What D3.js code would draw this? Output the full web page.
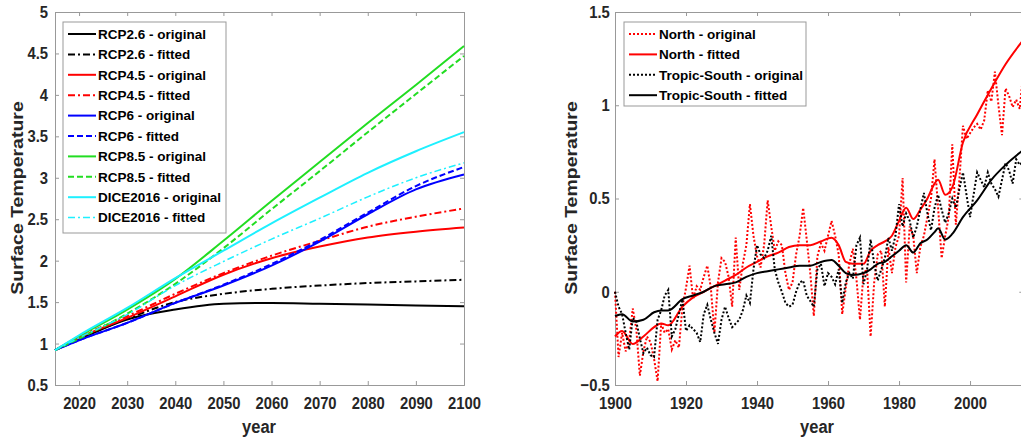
<!DOCTYPE html>
<html>
<head>
<meta charset="utf-8">
<script src="https://cdn.jsdelivr.net/npm/d3@7"></script>
<style>
body { margin: 0; background: #fff; }
svg { display: block; font-family: "Liberation Sans", Arial, sans-serif; }
.tick text { font-size: 17px; font-weight: bold; fill: #262626; }
.tick line { stroke: #999; }
.domain { stroke: #999; }
</style>
</head>
<body>
<svg class="chart" width="1021" height="441"></svg>
<script>
// left panel: projections
var leftYears = [2015, 2020, 2030, 2040, 2050, 2060, 2070, 2080, 2090, 2100];
var rcp26Orig = [0.92, 1.05, 1.29, 1.41, 1.48, 1.49, 1.48, 1.47, 1.46, 1.45];
var rcp26Fit  = [0.92, 1.06, 1.30, 1.50, 1.60, 1.66, 1.70, 1.73, 1.75, 1.77];
var rcp45Orig = [0.92, 1.07, 1.31, 1.57, 1.83, 2.03, 2.17, 2.28, 2.35, 2.40];
var rcp45Fit  = [0.92, 1.08, 1.33, 1.60, 1.85, 2.06, 2.24, 2.41, 2.53, 2.63];
var rcp6Orig  = [0.92, 1.04, 1.25, 1.49, 1.70, 1.94, 2.23, 2.56, 2.86, 3.04];
var rcp6Fit   = [0.92, 1.04, 1.25, 1.49, 1.71, 1.96, 2.25, 2.58, 2.90, 3.13];
var rcp85Orig = [0.92, 1.09, 1.41, 1.78, 2.24, 2.72, 3.19, 3.66, 4.12, 4.59];
var rcp85Fit  = [0.92, 1.06, 1.36, 1.72, 2.15, 2.62, 3.08, 3.55, 4.01, 4.47];
var diceOrig  = [0.92, 1.10, 1.43, 1.79, 2.12, 2.45, 2.76, 3.06, 3.32, 3.55];
var diceFit   = [0.92, 1.07, 1.35, 1.70, 1.99, 2.26, 2.51, 2.77, 3.00, 3.18];
var leftXTicks = [2020, 2030, 2040, 2050, 2060, 2070, 2080, 2090, 2100];
var leftYTicks = [0.5, 1, 1.5, 2, 2.5, 3, 3.5, 4, 4.5, 5];

// right panel: historical
var histYears = d3.range(1900, 2016);
var northOrig = [0.00,-0.35,-0.22,-0.32,-0.26,-0.09,-0.20,-0.45,-0.32,-0.24,
  -0.27,-0.36,-0.48,-0.17,-0.22,-0.20,-0.31,-0.26,-0.30,-0.08,
  0.02,0.14,-0.04,0.03,0.01,0.08,0.14,0.02,-0.22,0.05,
  0.18,0.16,0.08,-0.08,0.29,0.01,0.15,0.25,0.47,0.30,
  0.19,0.13,0.25,0.49,0.35,0.22,0.27,0.25,0.10,0.01,
  0.05,0.20,0.30,0.45,0.28,0.10,-0.13,0.19,0.26,0.22,
  0.30,0.38,0.30,0.20,-0.12,0.02,0.15,0.23,0.07,-0.15,
  0.10,0.12,-0.24,0.05,0.20,0.22,-0.08,0.24,0.10,0.24,
  0.30,0.61,0.05,0.35,0.30,0.10,0.24,0.30,0.40,0.50,
  0.71,0.45,0.18,0.30,0.40,0.79,0.36,0.60,0.89,0.82,
  0.85,0.88,0.90,0.87,0.92,1.08,1.02,1.18,1.00,0.84,
  1.09,1.05,0.99,1.03,0.98,1.18];
var southOrig = [0.00,-0.08,-0.12,-0.22,-0.31,-0.14,-0.16,-0.25,-0.33,-0.30,
  -0.34,-0.35,-0.15,-0.10,-0.02,0.01,-0.24,-0.20,-0.12,-0.04,
  -0.21,-0.18,-0.20,-0.22,-0.27,-0.12,-0.07,-0.15,-0.22,-0.28,
  -0.15,-0.08,-0.14,-0.19,-0.17,-0.15,-0.10,-0.02,-0.06,0.12,
  0.25,0.20,0.18,0.22,0.30,0.12,0.05,0.00,-0.06,-0.08,
  -0.07,0.00,0.05,0.06,-0.02,-0.05,-0.08,0.12,0.15,0.03,
  0.10,0.08,0.04,0.12,-0.06,0.05,0.10,0.07,0.25,0.29,
  0.04,0.12,0.28,0.15,0.06,0.12,0.18,0.29,0.22,0.30,
  0.47,0.35,0.42,0.38,0.29,0.35,0.44,0.53,0.42,0.33,
  0.45,0.52,0.44,0.37,0.42,0.50,0.45,0.55,0.64,0.52,
  0.40,0.52,0.64,0.60,0.56,0.64,0.58,0.55,0.51,0.60,
  0.69,0.65,0.58,0.71,0.68,0.70];
var fitYears = [1900,1902,1905,1908,1911,1913,1915,1919,1922,1925,1928,1931,1934,1937,1940,1943,
  1946,1949,1952,1955,1958,1961,1963,1965,1967,1970,1972,1974,1976,1978,1980,1982,
  1984,1986,1988,1990,1991,1993,1995,1998,2002,2006,2010,2015];
var northFit = [-0.24,-0.21,-0.28,-0.24,-0.19,-0.17,-0.18,-0.08,-0.03,0.00,0.03,0.06,0.09,0.13,0.16,0.19,
  0.21,0.24,0.25,0.25,0.27,0.29,0.25,0.16,0.15,0.15,0.22,0.25,0.27,0.30,0.38,0.45,
  0.39,0.44,0.50,0.58,0.60,0.52,0.56,0.80,0.95,1.09,1.22,1.35];
var southFit = [-0.13,-0.12,-0.16,-0.15,-0.11,-0.10,-0.10,-0.04,-0.02,0.00,0.03,0.04,0.05,0.08,0.10,0.11,
  0.12,0.13,0.14,0.14,0.16,0.17,0.14,0.10,0.09,0.10,0.12,0.15,0.16,0.19,0.22,0.25,
  0.21,0.26,0.28,0.32,0.34,0.28,0.31,0.40,0.49,0.60,0.68,0.76];
var rightXTicks = [1900, 1920, 1940, 1960, 1980, 2000];
var rightYTicks = [-0.5, 0, 0.5, 1, 1.5];

var svg = d3.select(".chart");
var squeeze = "scale(0.87,1)";

function panel(opts) {
  var g = svg.append("g");
  var x = d3.scaleLinear().domain(opts.xDomain).range(opts.xRange);
  var y = d3.scaleLinear().domain(opts.yDomain).range([385, 12]);

  g.append("g").attr("transform", "translate(0,385)")
    .call(d3.axisBottom(x).tickValues(opts.xTicks).tickFormat(d3.format("d")).tickSize(-4).tickPadding(12))
    .selectAll("text").attr("transform", squeeze);
  g.append("g").attr("transform", "translate(0,12)")
    .call(d3.axisTop(x).tickValues(opts.xTicks).tickFormat("").tickSize(-4));
  g.append("g").attr("transform", "translate(" + opts.xRange[0] + ",0)")
    .call(d3.axisLeft(y).tickValues(opts.yTicks).tickFormat(d3.format("")).tickSize(-4).tickPadding(opts.yPad))
    .selectAll("text").attr("transform", squeeze);
  g.append("g").attr("transform", "translate(" + opts.xRange[1] + ",0)")
    .call(d3.axisRight(y).tickValues(opts.yTicks).tickFormat("").tickSize(-4));

  g.append("text").attr("transform", "translate(" + opts.labelX + ",433) " + squeeze)
    .attr("text-anchor", "middle")
    .style("font-size", "19px").style("font-weight", "bold").style("fill", "#262626")
    .text("year");
  g.append("text").attr("transform", "translate(" + opts.yLabelX + ",198) " + squeeze + " rotate(-90)")
    .attr("text-anchor", "middle").style("font-size", "19.5px").style("font-weight", "bold").style("fill", "#262626")
    .text("Surface Temperature");

  var lines = g.append("g");
  opts.series.forEach(function(s) {
    var line = d3.line()
      .x(function(d) { return x(d[0]); })
      .y(function(d) { return y(d[1]); })
      .curve(s.curve || d3.curveMonotoneX);
    lines.append("path")
      .datum(d3.zip(s.xs, s.ys))
      .attr("d", line)
      .attr("fill", "none")
      .attr("stroke", s.color)
      .attr("stroke-width", s.width || 2)
      .attr("stroke-dasharray", s.dash || null);
  });

  // legend
  var L = opts.legend;
  g.append("rect").attr("x", L.x).attr("y", L.y).attr("width", L.w).attr("height", L.h)
    .attr("fill", "#fff").attr("stroke", "#999").attr("stroke-width", 1);
  opts.series.forEach(function(s, i) {
    var cy = L.y + 12 + i * 20.4;
    g.append("line").attr("x1", L.x + 5).attr("x2", L.x + 33).attr("y1", cy).attr("y2", cy)
      .attr("stroke", s.color).attr("stroke-width", s.width || 2)
      .attr("stroke-dasharray", s.dash || null);
    g.append("text").attr("x", L.x + 35).attr("y", cy).attr("dy", "0.36em")
      .style("font-size", "13.5px").style("font-weight", "bold").style("fill", "#000")
      .text(s.name);
  });
}

var dashDot = "7,3,2,3";
var dashed = "6,3";
var dotted = "2,2";
var green = "#22dd22";
var cyan = "#1ef0ff";

panel({
  xDomain: [2015, 2100], xRange: [55, 464],
  yDomain: [0.5, 5], xTicks: leftXTicks, yTicks: leftYTicks, yPad: 8,
  labelX: 259, yLabelX: 23,
  legend: { x: 63, y: 22, w: 163, h: 211 },
  series: [
    { name: "RCP2.6 - original", xs: leftYears, ys: rcp26Orig, color: "#000" },
    { name: "RCP2.6 - fitted", xs: leftYears, ys: rcp26Fit, color: "#000", dash: dashDot },
    { name: "RCP4.5 - original", xs: leftYears, ys: rcp45Orig, color: "#ff0000" },
    { name: "RCP4.5 - fitted", xs: leftYears, ys: rcp45Fit, color: "#ff0000", dash: dashDot },
    { name: "RCP6 - original", xs: leftYears, ys: rcp6Orig, color: "#0000ff" },
    { name: "RCP6 - fitted", xs: leftYears, ys: rcp6Fit, color: "#0000ff", dash: dashed },
    { name: "RCP8.5 - original", xs: leftYears, ys: rcp85Orig, color: green },
    { name: "RCP8.5 - fitted", xs: leftYears, ys: rcp85Fit, color: green, dash: dashed },
    { name: "DICE2016 - original", xs: leftYears, ys: diceOrig, color: cyan },
    { name: "DICE2016 - fitted", xs: leftYears, ys: diceFit, color: cyan, dash: dashDot, width: 1.5 }
  ]
});

panel({
  xDomain: [1900, 2015], xRange: [615, 1023.3],
  yDomain: [-0.5, 1.5], xTicks: rightXTicks, yTicks: rightYTicks, yPad: 6,
  labelX: 817, yLabelX: 577,
  legend: { x: 624, y: 22, w: 182, h: 84 },
  series: [
    { name: "North - original", xs: histYears, ys: northOrig, color: "#ff0000", dash: dotted, curve: d3.curveLinear },
    { name: "North - fitted", xs: fitYears, ys: northFit, color: "#ff0000" },
    { name: "Tropic-South - original", xs: histYears, ys: southOrig, color: "#000", dash: dotted, curve: d3.curveLinear },
    { name: "Tropic-South - fitted", xs: fitYears, ys: southFit, color: "#000" }
  ]
});
</script>
</body>
</html>
